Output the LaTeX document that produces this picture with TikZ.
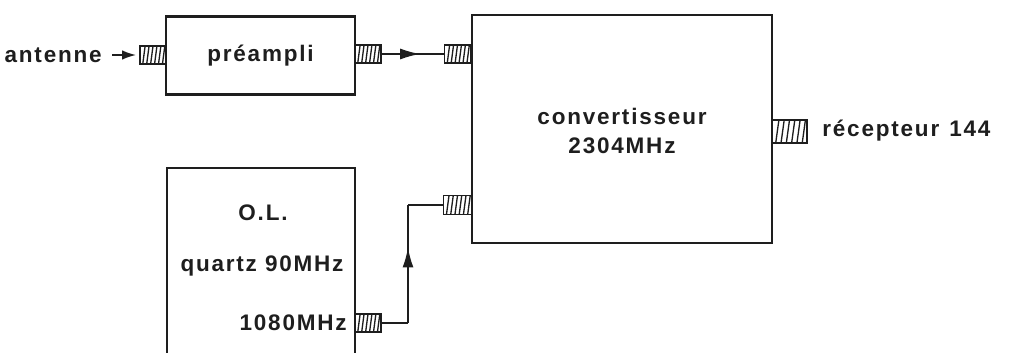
\documentclass[tikz,border=0pt]{standalone}
\usepackage{fontspec}
\newfontfamily\letterfont{Liberation Sans}[LetterSpace=8]
\usepackage{tikz}
\usetikzlibrary{arrows.meta, positioning, decorations.markings, calc}
\definecolor{mInk}{HTML}{1E1E1E}
\tikzset{
  unit/.style={draw=mInk, line width=1.2pt, inner sep=0pt},
  lbl/.style={text=mInk, font=\letterfont\bfseries\fontsize{12.8}{15}\selectfont, inner sep=0pt},
  plug/.style={draw=mInk, line width=1pt, fill=white, inner sep=0pt,
               minimum width=5.2mm, minimum height=3.6mm,
               path picture={
                 \foreach \k in {1,...,6}
                   \draw[mInk, line width=0.75pt]
                     ($(path picture bounding box.south west)!{(\k-0.3)/6.6}!(path picture bounding box.south east)$)
                     -- ($(path picture bounding box.north west)!{(\k+0.3)/6.6}!(path picture bounding box.north east)$);
               }},
  wire/.style={mInk, line width=1pt},
  midarrow/.style={postaction={decorate}, decoration={markings,
                   mark=at position #1 with {\arrow{Latex[length=4mm, width=2.2mm]}}}},
}

\begin{document}
\begin{tikzpicture}[x=0.2mm, y=-0.2mm]
    \useasboundingbox (0,0) rectangle (1010,353);
    \clip (0,0) rectangle (1010,353);
    % blocks
    \node[unit, minimum width=37.8mm, minimum height=15.6mm] (pre)  at (260.5,55.5) {};
    \node[unit, minimum width=60mm,   minimum height=45.6mm] (conv) at (622,129) {};
    \node[unit, minimum width=37.6mm, minimum height=42.4mm] (ol)   at (261,274) {};
    % plugs
    \node[plug] (ant_in)  at (153,55) {};
    \node[plug] (pre_out) at (368,54) {};
    \node[plug] (conv_in) at (457.5,54) {};
    \node[plug, minimum width=5.6mm, minimum height=3.8mm] (conv_lo) at (457.5,205) {};
    \node[plug, minimum width=7mm,   minimum height=4.6mm] (conv_out) at (789.5,131.5) {};
    \node[plug] (ol_out)  at (368,323) {};
    % texts
    \node[lbl, anchor=east] (ant) at (102,55) {antenne};
    \node[lbl] (pre_t)   at (pre) {préampli};
    \node[lbl] (conv_t1) at (622,116) {convertisseur};
    \node[lbl] (conv_t2) at (622,146) {2304MHz};
    \node[lbl, anchor=west] (recv) at (822,131) {récepteur\hspace{0.45em}144};
    \node[lbl] (ol_t1) at (263,213) {O.L.};
    \node[lbl] (ol_t2) at (262,266) {quartz 90MHz};
    \node[lbl, anchor=east] (ol_t3) at (347,323) {1080MHz};
    % wires
    \coordinate (kneeA) at (408,323);
    \coordinate (kneeB) at (408,205);
    \draw[wire, -{Latex[length=2.8mm, width=1.9mm]}, shorten <=2mm, shorten >=0.6mm] (ant) -- (ant_in);
    \draw[wire, midarrow=0.62] (pre_out) -- (conv_in);
    \draw[wire] (ol_out) -- (kneeA);
    \draw[wire, midarrow=0.64] (kneeA) -- (kneeB);
    \draw[wire] (kneeB) -- (conv_lo);
  \end{tikzpicture}
\end{document}
